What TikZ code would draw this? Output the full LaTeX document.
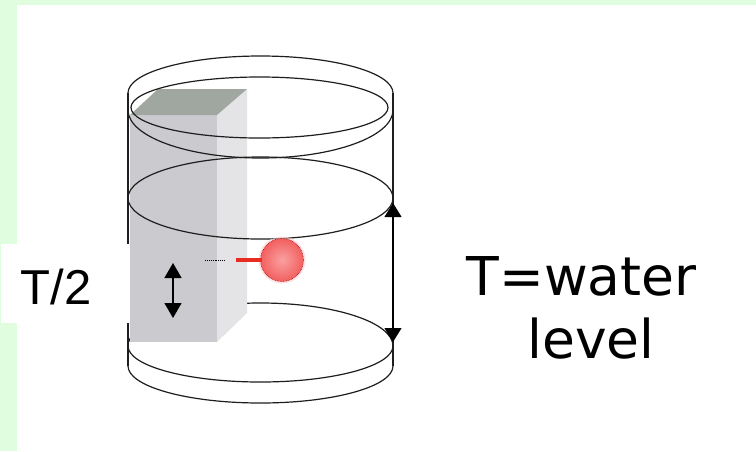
\documentclass[tikz,border=0pt]{standalone}
\usepackage{fontspec}
\setmainfont{Liberation Sans}
\newfontfamily\dejavu{DejaVu Sans}
\usetikzlibrary{arrows.meta}
\definecolor{bggreen}{RGB}{224,253,224}
\definecolor{rimline}{RGB}{30,30,30}
\definecolor{boxtop}{RGB}{160,166,160}
\definecolor{boxfront}{RGB}{203,203,207}
\definecolor{boxside}{RGB}{228,228,230}
\definecolor{stickred}{RGB}{232,44,34}
\definecolor{ballin}{RGB}{250,160,160}
\definecolor{ballout}{RGB}{242,96,96}
\tikzset{
  rim/.style={draw=rimline, line width=1.2pt},
  levelarrow/.style={draw=black, line width=1.2pt,
    {Triangle[length=14pt,width=17pt]}-{Triangle[length=14pt,width=17pt]}},
  gaugearrow/.style={draw=black, line width=1.3pt,
    {Triangle[length=15pt,width=17pt]}-{Triangle[length=15pt,width=17pt]}},
  label/.style={inner sep=0pt, text=black}
}
\begin{document}
\begin{tikzpicture}[x=1pt,y=-1pt]
\useasboundingbox (0,0) rectangle (756,451);
% page background and white panel
\fill[bggreen] (0,0) rectangle (756,451);
\fill[white] (17,5) rectangle (756,451);

% named points of the tank
\coordinate (topc) at (260.5,93);
\coordinate (rimc) at (260.5,110);
\coordinate (innerc) at (259.5,107.5);
\coordinate (waterc) at (260.5,198);
\coordinate (basec) at (260.5,346);
\coordinate (footc) at (260.5,366);

% back half of the base ellipse (hidden behind the gauge block)
\draw[rim] (128,346) arc[start angle=180, end angle=0, x radius=132.5pt, y radius=43pt];

% gauge block
\fill[boxfront] (130,115) rectangle (217,342);
\fill[boxside] (217,115) -- (247,89) -- (247,313) -- (217,342) -- cycle;
\fill[boxtop] (130,115) -- (217,115) -- (247,89) -- (158,89) -- cycle;

% tank walls
\draw[rim] (128,93) -- (128,366);
\draw[rim] (393,93) -- (393,366);

% top rim
\draw[rim] (128,93) arc[start angle=180, end angle=0, x radius=132.5pt, y radius=37pt];
\draw[rim] (128,110) arc[start angle=180, end angle=360, x radius=132.5pt, y radius=48pt];
\draw[rim] (innerc) ellipse[x radius=128.5pt, y radius=30.5pt];

% water surface
\draw[rim] (waterc) ellipse[x radius=132.5pt, y radius=41pt];

% base front and foot
\draw[rim] (128,346) arc[start angle=180, end angle=360, x radius=132.5pt, y radius=36pt];
\draw[rim] (128,366) arc[start angle=180, end angle=360, x radius=132.5pt, y radius=37pt];

% water level arrow along the right wall
\coordinate (lvtop) at (393,203);
\coordinate (lvbot) at (393,342);
\draw[levelarrow] (lvtop) -- (lvbot);

% float on its rod
\coordinate (ball) at (282,260);
\coordinate (rodA) at (236,260);
\coordinate (rodB) at (262,260);
\coordinate (tickA) at (205,260);
\coordinate (tickB) at (225,260);
\fill[ballout!30, opacity=0.6] (ball) circle[radius=23.5pt];
\shade[inner color=ballin, outer color=ballout] (ball) circle[radius=21.5pt];
\draw[red!65!black, densely dotted, line width=0.6pt] (ball) circle[radius=21.5pt];
\draw[stickred, line width=3.5pt] (rodA) -- (rodB);
\draw[black, densely dotted, line width=0.9pt] (tickA) -- (tickB);

% gauge travel arrow
\coordinate (gtop) at (173,263);
\coordinate (gbot) at (173,318);
\draw[gaugearrow] (gtop) -- (gbot);

% label panel at the left
\fill[white] (1,244) rectangle (129.3,323);
\node[label, anchor=base west, font=\fontsize{49}{55}\selectfont] (half) at (20.5,304) {T/2};

% caption at the right
\node[label, anchor=base, font=\dejavu\fontsize{53.5}{63}\selectfont] (capA) at (581.5,295) {T=water};
\node[label, anchor=base, font=\dejavu\fontsize{53.5}{63}\selectfont] (capB) at (591,358) {level};
\end{tikzpicture}
\end{document}
